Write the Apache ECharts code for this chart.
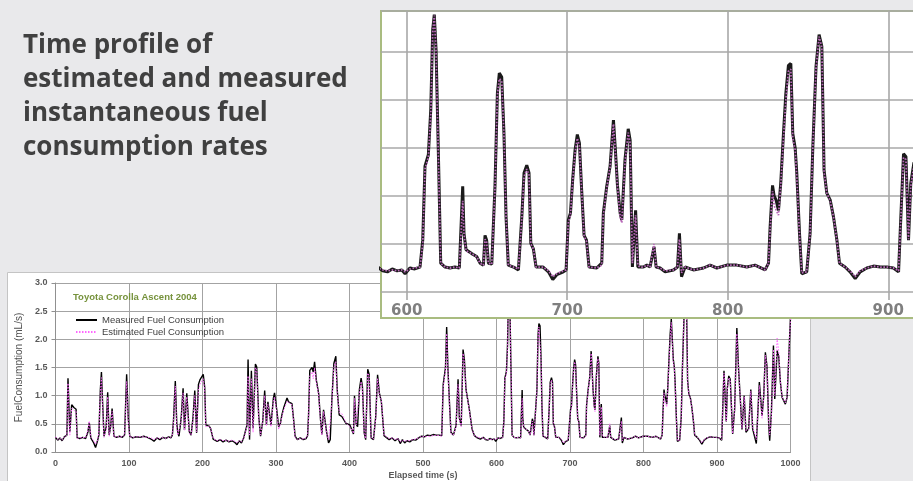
<!DOCTYPE html>
<html><head><meta charset="utf-8">
<script src="https://cdn.jsdelivr.net/npm/echarts@6/dist/echarts.min.js"></script>
<style>html,body{margin:0;padding:0;background:#e9e9eb;}#c{width:913px;height:481px;}</style>
</head><body><div id="c"></div>
<script>
const slideTitle = 'Time profile of\nestimated and measured\ninstantaneous fuel\nconsumption rates';
const chartTitle = 'Toyota Corolla Ascent 2004';
const seriesNames = ['Measured Fuel Consumption', 'Estimated Fuel Consumption'];
const xName = 'Elapsed time (s)';
const yName = 'FuelConsumption (mL/s)';
const insetTicks = [600, 700, 800, 900];

const times = [0,3,6,9,12,14.5,15.5,17,19.5,22,25,28,29.5,33,37,41,44,46,48,50,52,54.5,57,59,61,62.5,64,66,69,71,73,75,77,79.5,83,87,91,94,96.8,99,101,105,110,115,120,125,130,134,138,142,146,150,154,157,159,160.5,163,165,166.5,168,171,173.6,175.5,178.6,182,184.5,187,189.5,192,194.5,196.5,199,201,203,204.5,209,211,214.5,220,224,228,232,236,240,244,247,250,253,256,258,260.6,262,264,266.5,268.8,272,273.8,276.5,279,282,284.6,287,289,291.4,293.2,296.4,298,301,303.6,306,308,310.4,312.7,315,317,321.7,324,326,329,333,337,341,343,344.3,346,349,350.7,352.5,354.8,358,360.6,362.4,364.7,367,369,371.5,373.8,376,378.7,381.4,383.3,386,389.6,391.9,395,397.7,400.5,403,405.4,406.8,409,411,413.5,415.8,417.6,420,422,424.8,426.7,429.4,432.6,435.7,438.2,440.6,443.3,447,450,454,458,462,466,469,472,475,478,482,486,490,494,498,502,506,510,514,518,522,525.5,527.5,530.6,532.2,534,536,538,541.4,545,547.7,549.5,552,554.5,556.3,558.5,563,566.7,570,574,578,582,585,588,591,594,597,599,602,605,608.3,610,611.4,613.5,615,616.2,617.2,618.3,619.7,621.2,623.9,627,630,632.8,634.9,635.7,637,640.5,643.6,645.7,647.8,648.8,649.8,650.9,653,655,656.5,657.7,659.2,660.6,661.9,663.3,666.5,669.6,671.7,673.1,674.8,676.2,677.3,678.9,680.6,685,688.3,691,693.5,697.6,699.3,700.7,702,703.4,704.9,706.3,707.6,709,710.5,712,713.6,718.4,721.5,722.5,724.6,726.7,728.8,730,731.3,733,734,736,738,739.2,740.6,742.6,744,745.4,747.5,749.6,751.6,754.1,755.4,757.9,761,766.2,768.7,769.9,771.2,773.4,778.6,784.9,789,793.2,799.4,805.6,811.9,817,823.3,825.4,826.4,827.9,828.9,830.1,831.6,833,834.7,836.2,837.8,839.3,840.5,842,843,844.7,846.1,849.2,851.3,853,855,856.9,858.6,860,861.7,863.8,865.9,868,869.6,873.1,876.2,879.4,882.5,886.6,890.8,895,899.1,903.2,906.4,907.4,909.5,911,912.6,914,916,918,921.3,924,927,929.4,931.7,934,937,939.4,943,946,948.5,952,953.5,957.6,961.3,963.6,965.8,968,970.4,971.7,974,976.8,978.6,981.8,984,986.3,988.6,993,995.4,997.7,1000];

const measured = [0.26,0.21,0.25,0.20,0.27,0.24,0.30,1.31,0.36,0.84,0.79,0.76,0.25,0.24,0.26,0.24,0.35,0.52,0.25,0.22,0.16,0.08,0.19,0.30,1.10,1.42,0.90,0.28,0.45,1.06,0.30,0.45,0.77,0.28,0.26,0.28,0.26,0.30,1.38,0.60,0.28,0.25,0.27,0.26,0.28,0.26,0.23,0.19,0.25,0.22,0.26,0.24,0.27,0.25,0.30,0.55,1.26,0.50,0.34,0.28,0.60,1.13,0.39,1.04,0.36,0.30,0.60,1.09,0.34,1.20,1.28,1.29,1.38,1.15,0.48,0.46,0.42,0.23,0.19,0.22,0.18,0.21,0.18,0.20,0.17,0.13,0.20,0.16,0.25,0.28,0.48,1.64,0.22,1.44,0.42,1.56,1.51,0.63,0.28,0.55,1.09,0.48,0.89,0.89,0.48,0.95,1.05,0.75,0.45,0.51,0.66,0.78,0.75,0.96,0.89,0.86,0.57,0.28,0.22,0.25,0.22,0.24,0.29,0.66,1.45,1.50,1.42,1.60,1.28,1.04,0.57,0.31,0.75,0.76,0.34,0.16,0.22,0.92,1.57,1.70,1.10,0.66,0.63,0.60,0.51,0.48,0.48,0.45,0.32,1.00,0.50,0.45,1.11,1.31,1.16,0.34,0.22,1.47,1.38,0.25,0.22,0.63,1.37,1.05,0.90,0.29,0.26,0.22,0.25,0.20,0.24,0.15,0.22,0.16,0.20,0.18,0.22,0.21,0.25,0.28,0.27,0.30,0.29,0.31,0.30,0.30,0.29,1.20,1.50,2.22,1.45,0.88,0.35,0.30,0.47,1.29,0.60,0.47,1.82,1.64,1.11,0.76,0.41,0.29,0.25,0.23,0.26,0.22,0.21,0.24,0.22,0.23,0.19,0.25,0.24,0.26,0.54,1.31,1.43,1.90,2.73,2.89,2.52,1.48,0.30,0.26,0.25,0.26,0.25,1.10,0.61,0.44,0.40,0.37,0.30,0.28,0.59,0.54,0.30,0.29,1.10,2.07,2.28,2.24,1.65,0.78,0.28,0.26,0.23,0.78,1.24,1.32,1.24,0.51,0.45,0.26,0.26,0.21,0.13,0.18,0.21,0.23,0.75,0.82,1.17,1.48,1.64,1.55,1.06,0.59,0.54,0.26,0.25,0.30,0.82,1.10,1.31,1.79,1.48,1.11,0.82,0.75,1.38,1.70,1.58,0.26,0.85,0.26,0.26,0.26,0.28,0.26,0.47,0.26,0.25,0.21,0.23,0.26,0.61,0.16,0.26,0.23,0.25,0.28,0.25,0.28,0.28,0.26,0.28,0.23,0.30,0.68,1.11,1.00,0.96,0.85,1.13,1.65,2.07,2.36,2.38,1.65,1.50,1.24,0.61,0.19,0.21,0.61,1.51,2.35,2.68,2.56,1.27,1.03,0.96,0.78,0.54,0.30,0.26,0.21,0.14,0.21,0.25,0.27,0.26,0.26,0.25,0.21,0.61,1.44,1.41,0.54,1.13,1.35,1.29,0.32,0.76,2.20,1.46,0.94,0.40,1.00,0.35,0.41,1.11,0.41,0.23,0.15,1.24,0.64,1.00,1.77,1.52,0.47,0.20,0.70,1.89,0.94,1.80,1.70,1.23,0.97,0.85,0.97,1.70,2.40];

const estimated = [0.27,0.22,0.25,0.21,0.27,0.25,0.30,1.22,0.30,0.78,0.74,0.72,0.24,0.25,0.26,0.25,0.38,0.55,0.26,0.24,0.20,0.14,0.20,0.35,1.05,1.32,0.85,0.26,0.40,0.98,0.28,0.45,0.72,0.27,0.27,0.27,0.27,0.30,1.25,0.55,0.27,0.26,0.27,0.27,0.27,0.26,0.25,0.22,0.25,0.24,0.26,0.24,0.26,0.26,0.30,0.50,1.17,0.42,0.30,0.28,0.55,1.05,0.38,0.98,0.34,0.30,0.55,1.00,0.36,1.10,1.20,1.22,1.30,1.10,0.45,0.46,0.42,0.24,0.20,0.22,0.20,0.21,0.19,0.21,0.19,0.16,0.20,0.18,0.24,0.27,0.45,1.35,0.30,1.30,0.35,1.50,1.46,0.60,0.30,0.55,1.00,0.46,0.85,0.86,0.45,0.90,0.98,0.72,0.40,0.50,0.62,0.75,0.72,0.90,0.87,0.84,0.55,0.26,0.22,0.24,0.23,0.25,0.30,0.60,1.35,1.42,1.30,1.50,1.25,1.02,0.55,0.30,0.72,0.75,0.32,0.22,0.24,0.88,1.50,1.60,1.05,0.70,0.68,0.62,0.52,0.50,0.45,0.42,0.33,0.95,0.48,0.45,1.05,1.25,1.12,0.33,0.24,1.40,1.35,0.25,0.23,0.60,1.30,1.02,0.92,0.30,0.27,0.24,0.25,0.22,0.24,0.18,0.21,0.19,0.20,0.20,0.22,0.23,0.25,0.28,0.27,0.28,0.28,0.29,0.30,0.29,0.28,1.15,1.45,2.10,1.42,0.85,0.33,0.30,0.45,1.20,0.58,0.45,1.75,1.60,1.10,0.75,0.40,0.29,0.26,0.25,0.25,0.23,0.22,0.23,0.22,0.23,0.21,0.24,0.25,0.26,0.50,1.28,1.40,1.85,2.70,2.88,2.50,1.45,0.30,0.26,0.25,0.26,0.25,0.95,0.60,0.43,0.40,0.37,0.30,0.28,0.55,0.52,0.30,0.29,1.08,2.05,2.22,2.20,1.63,0.78,0.28,0.26,0.24,0.76,1.20,1.28,1.22,0.50,0.45,0.26,0.26,0.22,0.16,0.19,0.22,0.23,0.72,0.80,1.15,1.45,1.60,1.52,1.05,0.58,0.53,0.26,0.25,0.28,0.80,1.08,1.30,1.75,1.45,1.10,0.78,0.72,1.35,1.66,1.55,0.30,0.80,0.28,0.26,0.26,0.28,0.26,0.50,0.26,0.25,0.22,0.23,0.26,0.55,0.20,0.26,0.23,0.25,0.28,0.25,0.28,0.28,0.26,0.28,0.23,0.30,0.65,1.05,0.90,0.88,0.80,1.10,1.60,2.00,2.30,2.32,1.60,1.48,1.20,0.60,0.20,0.21,0.60,1.50,2.33,2.66,2.55,1.25,1.03,0.95,0.78,0.54,0.30,0.26,0.22,0.16,0.22,0.25,0.27,0.26,0.26,0.25,0.22,0.60,1.40,1.38,0.55,1.10,1.32,1.28,0.33,0.75,2.10,1.45,0.95,0.42,0.98,0.38,0.40,1.08,0.45,0.28,0.22,1.18,0.60,0.98,1.72,1.50,0.50,0.30,0.60,1.82,1.00,2.02,1.78,1.25,0.98,0.87,0.98,1.68,2.38];

const measuredData = times.map((t, i) => [t, measured[i]]);
const estimatedData = times.map((t, i) => [t, estimated[i]]);

const chart = echarts.init(document.getElementById('c'), null, {renderer: 'canvas'});
const lbl = {fontFamily: 'Liberation Sans, Arial', fontSize: 9, fontWeight: 'bold', color: '#595959'};
const gridLine = {show: true, lineStyle: {color: '#a3a3a3', width: 1}};
const insetGrid = {show: true, lineStyle: {color: '#a8a8a8', width: 1.6}};

chart.setOption({
  backgroundColor: '#e9e9eb',
  animation: false,
  title: [{
    text: slideTitle, left: 18, top: 24,
    textStyle: {fontFamily: 'Open Sans', fontSize: 26, fontWeight: 'bold', color: '#404040', lineHeight: 34}
  }, {
    text: chartTitle, left: 68, top: 287,
    textStyle: {fontFamily: 'Liberation Sans, Arial', fontSize: 9.5, fontWeight: 'bold', color: '#76923c'}
  }],
  graphic: [
    {type: 'rect', z: -10, shape: {x: 7.5, y: 272.5, width: 803, height: 220}, style: {fill: '#ffffff', stroke: '#c4c4c4', lineWidth: 1}},
    {type: 'rect', z: 100, shape: {x: 381, y: 11, width: 545, height: 307}, style: {fill: '#ffffff', stroke: '#a9bc80', lineWidth: 2}}
  ],
  legend: {
    data: seriesNames, orient: 'vertical', left: 70, top: 310,
    itemWidth: 21, itemHeight: 9, itemGap: 2,
    itemStyle: {opacity: 0},
    textStyle: {fontFamily: 'Liberation Sans, Arial', fontSize: 9.5, color: '#404040'}
  },
  grid: [
    {left: 55.5, right: 122.5, top: 283, bottom: 28},
    {left: 381, right: 0, top: 11, bottom: 189}
  ],
  xAxis: [{
    type: 'value', gridIndex: 0, min: 0, max: 1000, interval: 100,
    name: xName, nameLocation: 'middle', nameGap: 19,
    nameTextStyle: lbl,
    axisLine: {show: true, lineStyle: {color: '#909090'}},
    axisTick: {show: false},
    axisLabel: Object.assign({margin: 7, formatter: v => String(v)}, lbl),
    splitLine: gridLine
  }, {
    type: 'value', gridIndex: 1, min: 584, max: 915.4, z: 101,
    axisLine: {show: false},
    axisTick: {show: true, customValues: insetTicks, length: 8, lineStyle: {color: '#a8a8a8', width: 1.6}},
    axisLabel: {customValues: insetTicks, margin: 12, fontFamily: 'DejaVu Sans', fontSize: 15, fontWeight: 'bold', color: '#7f7f7f'},
    splitLine: insetGrid
  }],
  yAxis: [{
    type: 'value', gridIndex: 0, min: 0, max: 3, interval: 0.5,
    name: yName, nameLocation: 'middle', nameGap: 30, nameRotate: 90,
    nameTextStyle: {fontFamily: 'Liberation Sans, Arial', fontSize: 10, color: '#505050'},
    axisLine: {show: true, lineStyle: {color: '#909090'}},
    axisTick: {show: true, length: 4, lineStyle: {color: '#909090'}},
    axisLabel: Object.assign({margin: 8, formatter: v => v.toFixed(1)}, lbl),
    splitLine: gridLine
  }, {
    type: 'value', gridIndex: 1, min: 0, max: 2.927, interval: 0.5, z: 101,
    axisLine: {show: false}, axisTick: {show: false}, axisLabel: {show: false},
    splitLine: insetGrid
  }],
  series: [
    {name: seriesNames[0], type: 'line', xAxisIndex: 0, yAxisIndex: 0, data: measuredData, symbol: 'none', z: 3,
      lineStyle: {color: '#000000', width: 1.4}, itemStyle: {color: '#000000'}},
    {name: seriesNames[1], type: 'line', xAxisIndex: 0, yAxisIndex: 0, data: estimatedData, symbol: 'none', z: 4,
      lineStyle: {color: '#ff66ff', width: 1, type: [1.5, 1.5]}, itemStyle: {color: '#ff66ff'}},
    {name: 'inset-measured', type: 'line', xAxisIndex: 1, yAxisIndex: 1, data: measuredData, symbol: 'none', z: 102,
      lineStyle: {color: '#1a1a1a', width: 3}},
    {name: 'inset-estimated', type: 'line', xAxisIndex: 1, yAxisIndex: 1, data: estimatedData, symbol: 'none', z: 103,
      lineStyle: {color: '#b868b8', width: 1.8, type: [1.6, 1.6]}}
  ]
});
</script></body></html>
